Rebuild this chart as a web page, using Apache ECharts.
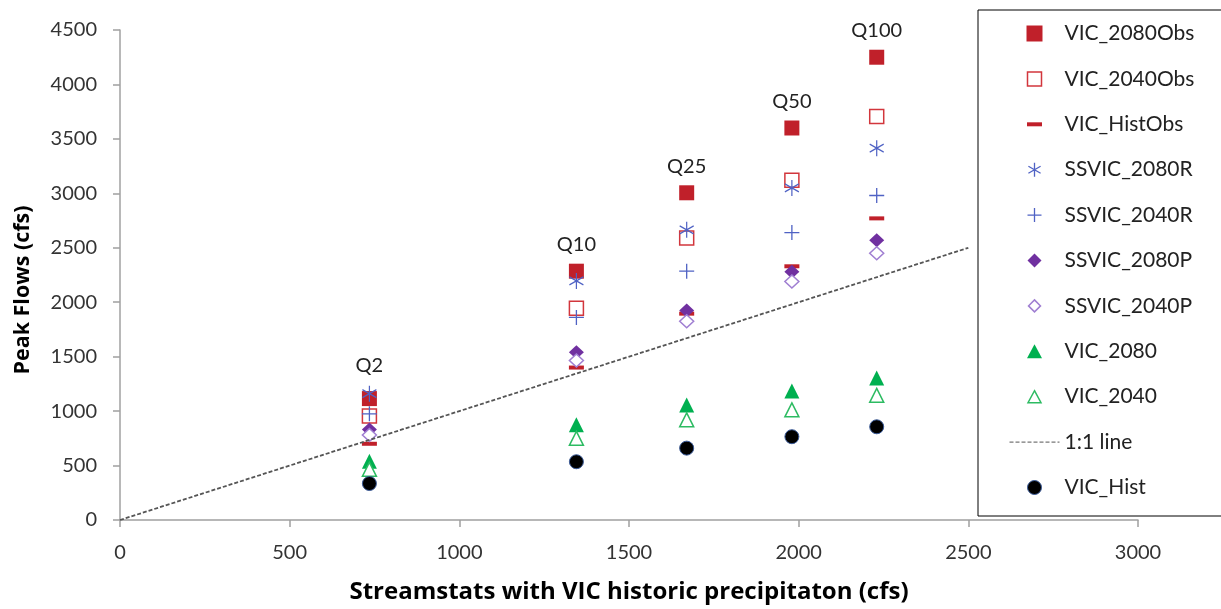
<!DOCTYPE html>
<html>
<head>
<meta charset="utf-8">
<script src="https://cdn.jsdelivr.net/npm/echarts@6/dist/echarts.min.js"></script>
<style>
html,body{margin:0;padding:0;background:#fff;}
#chart{width:1221px;height:609px;}
</style>
</head>
<body>
<div id="chart"></div>
<script>
// ---- data ----
const xVals      = [735, 1345, 1670, 1980, 2230];
const qLabels    = ['Q2', 'Q10', 'Q25', 'Q50', 'Q100'];
const vic2080Obs = [1115, 2285, 3005, 3600, 4250];
const vic2040Obs = [955, 1945, 2590, 3120, 3705];
const vicHistObs = [700, 1400, 1895, 2330, 2770];
const ssvic2080R = [1160, 2195, 2665, 3050, 3415];
const ssvic2040R = [975, 1860, 2285, 2640, 2980];
const ssvic2080P = [830, 1540, 1925, 2280, 2570];
const ssvic2040P = [780, 1465, 1825, 2190, 2450];
const vic2080    = [540, 875, 1055, 1185, 1305];
const vic2040    = [465, 750, 920, 1012, 1145];
const vicHist    = [335, 535, 660, 765, 856];
const oneToOne   = [[0, 0], [2500, 2500]];
const xTicks = [0, 500, 1000, 1500, 2000, 2500, 3000];
const yTicks = [0, 500, 1000, 1500, 2000, 2500, 3000, 3500, 4000, 4500];

const pts = arr => arr.map((v, i) => [xVals[i], v]);

// chart marker paths
const ASTER = 'path://M5,0L5,10M0.67,2.5L9.33,7.5M0.67,7.5L9.33,2.5';
const PLUS  = 'path://M5,0L5,10M0,5L10,5';
// legend icons, padded to the 50x16 legend icon box
const PAD = 'path://M0,0M50,16';
const LG_SQUARE  = PAD + 'M17,0h16v16h-16z';
const LG_OSQUARE = PAD + 'M18,1h14v14h-14z';
const LG_DASH    = PAD + 'M17.5,6h15v4h-15z';
const LG_ASTER   = PAD + 'M25,1L25,15M18.9,4.5L31.1,11.5M18.9,11.5L31.1,4.5';
const LG_PLUS    = PAD + 'M25,1L25,15M18,8L32,8';
const LG_DIAM    = PAD + 'M25,1L32,8L25,15L18,8z';
const LG_ODIAM   = PAD + 'M25,2L31,8L25,14L19,8z';
const LG_TRI     = PAD + 'M25,1L32.5,15L17.5,15z';
const LG_OTRI    = PAD + 'M25,2L31.5,14L18.5,14z';
const LG_CIRCLE  = PAD + 'M32,8A7,7 0 1,1 18,8A7,7 0 1,1 32,8z';

const tickFont = 'Lato';
const titleFont = 'Open Sans';
const chart = echarts.init(document.getElementById('chart'));

const option = {
  animation: false,
  backgroundColor: '#fff',
  grid: { left: 120, right: 83, top: 30, bottom: 85 },
  xAxis: {
    type: 'value', min: xTicks[0], max: xTicks[xTicks.length - 1], interval: 500,
    name: 'Streamstats with VIC historic precipitaton (cfs)',
    nameLocation: 'middle', nameGap: 60,
    nameTextStyle: { fontFamily: titleFont, fontWeight: 'bold', fontSize: 24, color: '#000' },
    axisLine: { lineStyle: { color: '#a0a0a0', width: 1.5 } },
    axisTick: { length: 7, lineStyle: { color: '#a0a0a0', width: 1.5 } },
    axisLabel: { margin: 23, fontFamily: tickFont, fontSize: 20, color: '#333', formatter: v => String(v) },
    splitLine: { show: false }
  },
  yAxis: {
    type: 'value', min: yTicks[0], max: yTicks[yTicks.length - 1], interval: 500,
    axisLine: { show: true, lineStyle: { color: '#a0a0a0', width: 1.5 } },
    axisTick: { show: true, length: 7, lineStyle: { color: '#a0a0a0', width: 1.5 } },
    axisLabel: { margin: 23, fontFamily: tickFont, fontSize: 20, color: '#333', formatter: v => String(v) },
    splitLine: { show: false }
  },
  graphic: [{
    type: 'text', x: 23, y: 290, rotation: Math.PI / 2,
    style: { text: 'Peak Flows (cfs)', fontFamily: titleFont, fontWeight: 'bold', fontSize: 21.5,
             fill: '#000', align: 'center', verticalAlign: 'middle' }
  }],
  legend: {
    orient: 'vertical', left: 978, top: 10,
    padding: [13, 110, 18, 29],
    itemWidth: 50, itemHeight: 16, itemGap: 24.4,
    backgroundColor: '#fff', borderColor: '#000', borderWidth: 1, borderRadius: 0,
    textStyle: { fontFamily: tickFont, fontSize: 21, lineHeight: 21, color: '#222' },
    itemStyle: { borderWidth: 'inherit' },
    lineStyle: { width: 1 },
    data: [
      { name: 'VIC_2080Obs', icon: LG_SQUARE },
      { name: 'VIC_2040Obs', icon: LG_OSQUARE },
      { name: 'VIC_HistObs', icon: LG_DASH },
      { name: 'SSVIC_2080R', icon: LG_ASTER },
      { name: 'SSVIC_2040R', icon: LG_PLUS },
      { name: 'SSVIC_2080P', icon: LG_DIAM },
      { name: 'SSVIC_2040P', icon: LG_ODIAM },
      { name: 'VIC_2080', icon: LG_TRI },
      { name: 'VIC_2040', icon: LG_OTRI },
      '1:1 line',
      { name: 'VIC_Hist', icon: LG_CIRCLE }
    ]
  },
  series: [
    { name: 'VIC_2080Obs', type: 'scatter', symbol: 'rect', symbolSize: 15,
      itemStyle: { color: '#c0202a', borderWidth: 0, opacity: 1 },
      data: pts(vic2080Obs).map((p, i) => ({ value: p, label: { distance: i === 0 ? 16 : 9 } })),
      label: { show: true, position: 'top', fontFamily: tickFont, fontSize: 20, color: '#222',
               formatter: p => qLabels[p.dataIndex] } },
    { name: 'VIC_2040Obs', type: 'scatter', symbol: 'rect', symbolSize: 14,
      itemStyle: { color: '#fff', borderColor: '#d2363c', borderWidth: 1.5, opacity: 1 },
      data: pts(vic2040Obs) },
    { name: 'VIC_HistObs', type: 'scatter', symbol: 'rect', symbolSize: [15, 4],
      itemStyle: { color: '#c0202a', borderWidth: 0, opacity: 1 },
      data: pts(vicHistObs) },
    { name: 'SSVIC_2080R', type: 'scatter', symbol: ASTER, symbolSize: [14, 16],
      itemStyle: { color: 'none', borderColor: '#4f62c4', borderWidth: 1.3, opacity: 1 },
      data: pts(ssvic2080R) },
    { name: 'SSVIC_2040R', type: 'scatter', symbol: PLUS, symbolSize: 15,
      itemStyle: { color: 'none', borderColor: '#4f62c4', borderWidth: 1.3, opacity: 1 },
      data: pts(ssvic2040R) },
    { name: 'SSVIC_2080P', type: 'scatter', symbol: 'diamond', symbolSize: [15, 14],
      itemStyle: { color: '#7030a0', borderWidth: 0, opacity: 1 },
      data: pts(ssvic2080P) },
    { name: 'SSVIC_2040P', type: 'scatter', symbol: 'diamond', symbolSize: [14, 13],
      itemStyle: { color: '#fff', borderColor: '#a07fd2', borderWidth: 1.5, opacity: 1 },
      data: pts(ssvic2040P) },
    { name: 'VIC_2080', type: 'scatter', symbol: 'triangle', symbolSize: [15, 15],
      itemStyle: { color: '#00b050', borderWidth: 0, opacity: 1 },
      data: pts(vic2080) },
    { name: 'VIC_2040', type: 'scatter', symbol: 'triangle', symbolSize: [14, 14],
      itemStyle: { color: '#fff', borderColor: '#2dbb62', borderWidth: 1.5, opacity: 1 },
      data: pts(vic2040) },
    { name: '1:1 line', type: 'line', symbol: 'none', showSymbol: false,
      itemStyle: { color: 'rgba(0,0,0,0)', borderWidth: 0 },
      lineStyle: { color: '#555', width: 1.8, type: [4, 2] },
      data: oneToOne },
    { name: 'VIC_Hist', type: 'scatter', symbol: 'circle', symbolSize: 14,
      itemStyle: { color: '#000', borderColor: '#3b5b99', borderWidth: 1, opacity: 1 },
      data: pts(vicHist) }
  ]
};
chart.setOption(option);
</script>
</body>
</html>
